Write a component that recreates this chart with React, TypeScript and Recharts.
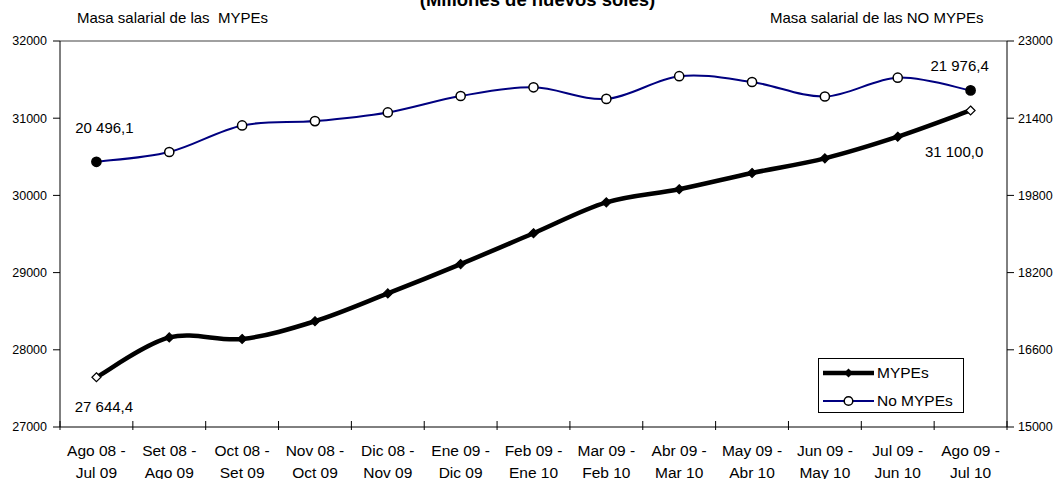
import React from 'react';
import {
  LineChart,
  Line,
  XAxis,
  YAxis,
  ReferenceLine,
  LabelList,
} from 'recharts';

const periods = [
  'Ago 08 - Jul 09',
  'Set 08 - Ago 09',
  'Oct 08 - Set 09',
  'Nov 08 - Oct 09',
  'Dic 08 - Nov 09',
  'Ene 09 - Dic 09',
  'Feb 09 - Ene 10',
  'Mar 09 - Feb 10',
  'Abr 09 - Mar 10',
  'May 09 - Abr 10',
  'Jun 09 - May 10',
  'Jul 09 - Jun 10',
  'Ago 09 - Jul 10',
];

const mypes = [27644.4, 28160, 28140, 28370, 28730, 29110, 29510, 29910, 30080, 30290, 30480, 30760, 31100.0];
const noMypes = [20496.1, 20700, 21250, 21340, 21520, 21860, 22040, 21800, 22270, 22150, 21850, 22240, 21976.4];

const leftTicks = [27000, 28000, 29000, 30000, 31000, 32000];
const rightTicks = [15000, 16600, 18200, 19800, 21400, 23000];

const data = periods.map((p, i) => ({ period: p, mypes: mypes[i], noMypes: noMypes[i] }));

const W = 1058;
const H = 479;
const PLOT_LEFT = 60;
const PLOT_RIGHT = 1007;
const HALF = (PLOT_RIGHT - PLOT_LEFT) / periods.length / 2;
const FONT = '"Liberation Sans", Arial, sans-serif';
const NAVY = '#000080';

// Excel-like smoothing (Catmull-Rom through the points)
const excelCurve = (context: any) => {
  let pts: number[][] = [];
  return {
    areaStart() {},
    areaEnd() {},
    lineStart() {
      pts = [];
    },
    point(x: number, y: number) {
      pts.push([+x, +y]);
    },
    lineEnd() {
      if (!pts.length) return;
      context.moveTo(pts[0][0], pts[0][1]);
      const t = 1 / 6;
      for (let i = 0; i < pts.length - 1; i++) {
        const p0 = pts[i - 1] || pts[i];
        const p1 = pts[i];
        const p2 = pts[i + 1];
        const p3 = pts[i + 2] || p2;
        context.bezierCurveTo(
          p1[0] + (p2[0] - p0[0]) * t,
          p1[1] + (p2[1] - p0[1]) * t,
          p2[0] - (p3[0] - p1[0]) * t,
          p2[1] - (p3[1] - p1[1]) * t,
          p2[0],
          p2[1]
        );
      }
    },
  };
};

const last = periods.length - 1;

const XTick = (props: any) => {
  const { x, y, payload, index } = props;
  const axisY = y - 8;
  const [a, b] = String(payload.value).split(' - ');
  return (
    <g>
      <line x1={x - HALF} x2={x - HALF} y1={axisY - 6} y2={axisY + 3} stroke="#000" />
      {index === last && (
        <line x1={x + HALF} x2={x + HALF} y1={axisY - 6} y2={axisY + 3} stroke="#000" />
      )}
      <text x={x} y={axisY + 29} textAnchor="middle" fontSize={15.5} fontFamily={FONT} fill="#000">
        {a + ' -'}
      </text>
      <text x={x} y={axisY + 50.5} textAnchor="middle" fontSize={15.5} fontFamily={FONT} fill="#000">
        {b}
      </text>
    </g>
  );
};

const MypesDot = (p: any) => {
  const { cx, cy, index } = p;
  const open = index === 0 || index === last;
  const r = 4.5;
  return (
    <path
      key={`m-${index}`}
      d={`M${cx},${cy - r} L${cx + r},${cy} L${cx},${cy + r} L${cx - r},${cy} Z`}
      fill={open ? '#fff' : '#000'}
      stroke="#000"
      strokeWidth={1.2}
    />
  );
};

const NoMypesDot = (p: any) => {
  const { cx, cy, index } = p;
  const filled = index === 0 || index === last;
  return (
    <circle
      key={`n-${index}`}
      cx={cx}
      cy={cy}
      r={4.6}
      fill={filled ? '#000' : '#fff'}
      stroke="#000"
      strokeWidth={1.5}
    />
  );
};

const fmt = (v: number) => {
  const [int, dec] = v.toFixed(1).split('.');
  return int.replace(/\B(?=(\d{3})+(?!\d))/g, ' ') + ',' + dec;
};

const makeLabel = (first: [number, number], end: [number, number]) => (props: any) => {
  const { x, y, value, index } = props;
  if (index !== 0 && index !== last) return null;
  const [dx, dy] = index === 0 ? first : end;
  return (
    <text
      x={x + dx}
      y={y + dy}
      textAnchor="middle"
      dominantBaseline="central"
      fontSize={15}
      fontFamily={FONT}
      fill="#000"
    >
      {fmt(Number(value))}
    </text>
  );
};

export default function App() {
  return (
    <div style={{ position: 'absolute', left: 0, top: 0, width: W, height: H, overflow: 'hidden', background: '#fff', fontFamily: FONT }}>
      <div style={{ position: 'absolute', left: 0, width: 1075, top: -11, textAlign: 'center', fontWeight: 'bold', fontSize: 18.5, whiteSpace: 'nowrap' }}>
        (Millones de nuevos soles)
      </div>
      <div style={{ position: 'absolute', left: 77, top: 9, fontSize: 15, whiteSpace: 'pre' }}>
        Masa salarial de las  MYPEs
      </div>
      <div style={{ position: 'absolute', left: 770, top: 9, fontSize: 15, whiteSpace: 'pre' }}>
        Masa salarial de las NO MYPEs
      </div>
      <LineChart width={W} height={H} data={data} margin={{ top: 41, right: 0, left: 0, bottom: 0 }}>
        <XAxis
          dataKey="period"
          height={52}
          padding={{ left: HALF, right: HALF }}
          tickLine={false}
          axisLine={{ stroke: '#000' }}
          interval={0}
          tick={<XTick />}
        />
        <YAxis
          yAxisId="left"
          width={60}
          domain={[27000, 32000]}
          ticks={leftTicks}
          tickSize={7}
          tickMargin={6}
          axisLine={{ stroke: '#000' }}
          tickLine={{ stroke: '#000' }}
          tick={{ fontSize: 12.5, fill: '#000', fontFamily: FONT }}
        />
        <YAxis
          yAxisId="right"
          orientation="right"
          width={51}
          domain={[15000, 23000]}
          ticks={rightTicks}
          tickSize={7}
          tickMargin={4}
          axisLine={{ stroke: '#000' }}
          tickLine={{ stroke: '#000' }}
          tick={{ fontSize: 12.5, fill: '#000', fontFamily: FONT }}
        />
        <ReferenceLine yAxisId="left" y={32000} stroke="#808080" strokeWidth={1.5} />
        <Line
          yAxisId="right"
          dataKey="noMypes"
          type={excelCurve as any}
          stroke={NAVY}
          strokeWidth={2}
          dot={NoMypesDot}
          activeDot={false}
          isAnimationActive={false}
        >
          <LabelList dataKey="noMypes" content={makeLabel([8, -34], [-11, -25])} />
        </Line>
        <Line
          yAxisId="left"
          dataKey="mypes"
          type={excelCurve as any}
          stroke="#000"
          strokeWidth={4.5}
          dot={MypesDot}
          activeDot={false}
          isAnimationActive={false}
        >
          <LabelList dataKey="mypes" content={makeLabel([7.5, 29.5], [-16.5, 41])} />
        </Line>
      </LineChart>
      <div
        style={{
          position: 'absolute',
          left: 818,
          top: 358,
          width: 144,
          height: 53,
          border: '1px solid #000',
          background: '#fff',
          fontSize: 15.5,
        }}
      >
        <div style={{ position: 'absolute', left: 4, top: 5, display: 'flex', alignItems: 'center', height: 18 }}>
          <svg width={51} height={12}>
            <line x1={0} x2={51} y1={6} y2={6} stroke="#000" strokeWidth={4.5} />
            <path d="M25.5,1.5 L30,6 L25.5,10.5 L21,6 Z" fill="#000" />
          </svg>
          <span style={{ marginLeft: 3 }}>MYPEs</span>
        </div>
        <div style={{ position: 'absolute', left: 4, top: 33, display: 'flex', alignItems: 'center', height: 18 }}>
          <svg width={51} height={12}>
            <line x1={0} x2={51} y1={6} y2={6} stroke={NAVY} strokeWidth={2} />
            <circle cx={25.5} cy={6} r={4.3} fill="#fff" stroke="#000" strokeWidth={1.5} />
          </svg>
          <span style={{ marginLeft: 3 }}>No MYPEs</span>
        </div>
      </div>
    </div>
  );
}
